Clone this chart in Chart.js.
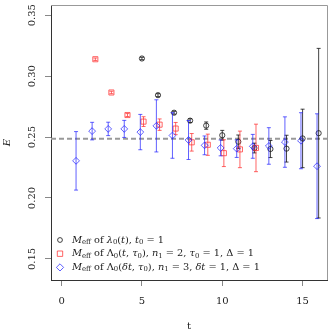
<!DOCTYPE html>
<html>
<head>
<meta charset="utf-8">
<script src="https://cdn.jsdelivr.net/npm/chart.js@4.4.0/dist/chart.umd.min.js"></script>
<style>html,body{margin:0;padding:0;background:#fff}</style>
</head>
<body>
<canvas id="grafico" width="332" height="332"></canvas>
<script>
// dados
const tLambda = [5, 6, 7, 8, 9, 10, 11, 12, 13, 14, 15, 16];
const eLambda = [0.3145, 0.2844, 0.2700, 0.2635, 0.2594, 0.2515, 0.2462, 0.2410, 0.2402, 0.2405, 0.2489, 0.2532];
const errLambda = [0.001, 0.0012, 0.0012, 0.0015, 0.003, 0.004, 0.0055, 0.004, 0.007, 0.011, 0.024, 0.0696];

const tGev = [2, 3, 4, 5, 6, 7, 8, 9, 10, 11, 12];
const eGev = [0.3139, 0.2866, 0.2681, 0.2627, 0.2602, 0.2570, 0.2457, 0.2437, 0.2368, 0.2399, 0.2411];
const errGev = [0.001, 0.001, 0.0012, 0.004, 0.0047, 0.005, 0.0072, 0.0087, 0.011, 0.015, 0.0195];

const tDelta = [1, 2, 3, 4, 5, 6, 7, 8, 9, 10, 11, 12, 13, 14, 15, 16];
const eDelta = [0.2305, 0.2549, 0.2567, 0.2567, 0.2541, 0.2592, 0.2513, 0.2476, 0.2432, 0.2411, 0.2405, 0.2424, 0.2427, 0.2459, 0.2470, 0.2261];
const errDelta = [0.024, 0.0072, 0.0055, 0.007, 0.0145, 0.0214, 0.0187, 0.016, 0.0077, 0.0065, 0.0072, 0.0098, 0.015, 0.0207, 0.023, 0.043];

const plateau = 0.2487;
const xTicks = [0, 5, 10, 15];
const yTicks = [0.15, 0.20, 0.25, 0.30, 0.35];

const legendas = [
  [['M','i'],['eff','s'],[' of ','r'],['λ','i'],['0','s'],['(','r'],['t','i'],['), ','r'],['t','i'],['0','s'],[' = 1','r']],
  [['M','i'],['eff','s'],[' of Λ','r'],['0','s'],['(','r'],['t','i'],[', ','r'],['τ','i'],['0','s'],['), ','r'],['n','i'],['1','s'],[' = 2, ','r'],['τ','i'],['0','s'],[' = 1, Δ = 1','r']],
  [['M','i'],['eff','s'],[' of Λ','r'],['0','s'],['(','r'],['δt','i'],[', ','r'],['τ','i'],['0','s'],['), ','r'],['n','i'],['1','s'],[' = 3, ','r'],['δt','i'],[' = 1, Δ = 1','r']]
];

const SERIF = '"DejaVu Serif", "Liberation Serif", serif';
const cores = ['rgba(20,20,20,0.8)', 'rgba(255,50,50,0.75)', 'rgba(30,30,255,0.7)'];

function pontos(ts, es, dx) {
  return ts.map((t, i) => ({ x: t + dx, y: es[i] }));
}

const erros = [errLambda, errGev, errDelta];

const barrasErro = {
  id: 'barrasErro',
  beforeDatasetDraw(chart, args) {
    const idx = args.index;
    if (idx > 2) return;
    const ctx = chart.ctx;
    const xs = chart.scales.x, ys = chart.scales.y;
    const ds = chart.data.datasets[idx];
    ctx.save();
    ctx.strokeStyle = cores[idx];
    ctx.lineWidth = 1;
    ds.data.forEach((p, i) => {
      const e = erros[idx][i];
      const px = xs.getPixelForValue(p.x);
      const y1 = ys.getPixelForValue(p.y + e);
      const y2 = ys.getPixelForValue(p.y - e);
      ctx.beginPath();
      ctx.moveTo(px, y1); ctx.lineTo(px, y2);
      ctx.moveTo(px - 2, y1); ctx.lineTo(px + 2, y1);
      ctx.moveTo(px - 2, y2); ctx.lineTo(px + 2, y2);
      ctx.stroke();
    });
    ctx.restore();
  }
};

function escreverFormula(ctx, partes, x, y, tam) {
  partes.forEach(([txt, est]) => {
    let fs = tam, dy = 0, estilo = '';
    if (est === 'i') estilo = 'italic ';
    if (est === 's') { fs = tam * 0.7; dy = tam * 0.22; }
    ctx.font = `${estilo}${fs}px ${SERIF}`;
    ctx.fillText(txt, x, y + dy);
    x += ctx.measureText(txt).width;
  });
}

const textos = {
  id: 'textos',
  afterDraw(chart) {
    const ctx = chart.ctx;
    const a = chart.chartArea;
    const xs = chart.scales.x, ys = chart.scales.y;
    ctx.save();
    // borda superior e direita
    ctx.strokeStyle = '#999';
    ctx.lineWidth = 1;
    ctx.beginPath();
    ctx.moveTo(a.left, a.top + 0.5); ctx.lineTo(a.right + 0.5, a.top + 0.5);
    ctx.lineTo(a.right + 0.5, a.bottom);
    ctx.stroke();

    ctx.fillStyle = '#222';
    ctx.textBaseline = 'middle';
    ctx.textAlign = 'center';
    ctx.font = `10px ${SERIF}`;
    xTicks.forEach(v => ctx.fillText(String(v), xs.getPixelForValue(v), 301));
    ctx.fillText('t', (a.left + a.right) / 2, 326);
    yTicks.forEach(v => {
      ctx.save();
      ctx.translate(32, ys.getPixelForValue(v));
      ctx.rotate(-Math.PI / 2);
      ctx.fillText(v.toFixed(2), 0, 0);
      ctx.restore();
    });
    ctx.save();
    ctx.translate(7, (a.top + a.bottom) / 2);
    ctx.rotate(-Math.PI / 2);
    ctx.font = `italic 10px ${SERIF}`;
    ctx.fillText('E', 0, 0);
    ctx.restore();

    // legenda
    const estilos = ['circle', 'rect', 'rectRot'];
    const raios = [2.4, 3.8, 3.6];
    ctx.textAlign = 'left';
    legendas.forEach((partes, i) => {
      const ly = 240 + i * 13.7;
      ctx.strokeStyle = cores[i];
      ctx.fillStyle = 'rgba(0,0,0,0)';
      ctx.lineWidth = 1;
      Chart.helpers.drawPoint(ctx, { pointStyle: estilos[i], radius: raios[i], rotation: 0, borderWidth: 1 }, 60, ly);
      ctx.fillStyle = '#222';
      escreverFormula(ctx, partes, 72, ly, 9.8);
    });
    ctx.restore();
  }
};

const serie = (rotulo, dados, i, estilo, raio, ordem) => ({
  label: rotulo,
  data: dados,
  pointStyle: estilo,
  pointRadius: raio,
  pointBorderWidth: 1,
  pointBorderColor: cores[i],
  pointBackgroundColor: 'rgba(0,0,0,0)',
  showLine: false,
  order: ordem
});

new Chart(document.getElementById('grafico').getContext('2d'), {
  type: 'scatter',
  data: {
    datasets: [
      serie('lambda0', pontos(tLambda, eLambda, 0), 0, 'circle', 2.6, 3),
      serie('Lambda0 n1=2', pontos(tGev, eGev, 0.1), 1, 'rect', 3.6, 2),
      serie('Lambda0 n1=3', pontos(tDelta, eDelta, -0.1), 2, 'rectRot', 3.4, 1),
      {
        type: 'line',
        label: 'plateau',
        data: [{ x: -0.66, y: plateau }, { x: 16.52, y: plateau }],
        borderColor: '#999',
        borderWidth: 2,
        borderDash: [5, 3],
        pointRadius: 0,
        order: 4
      }
    ]
  },
  plugins: [barrasErro, textos],
  options: {
    responsive: false,
    animation: false,
    layout: { padding: { top: 1, right: 3, left: 0, bottom: 0 } },
    plugins: { legend: { display: false }, tooltip: { enabled: false } },
    scales: {
      x: {
        type: 'linear', min: -0.66, max: 16.52,
        afterBuildTicks: s => { s.ticks = xTicks.map(v => ({ value: v })); },
        afterFit: s => { s.height = 52; },
        ticks: { display: false },
        grid: { drawOnChartArea: false, drawTicks: true, tickLength: 6, color: '#888' },
        border: { display: true, color: '#333', width: 1 }
      },
      y: {
        type: 'linear', min: 0.1327, max: 0.3584,
        afterBuildTicks: s => { s.ticks = yTicks.map(v => ({ value: v })); },
        afterFit: s => { s.width = 51; },
        ticks: { display: false },
        grid: { drawOnChartArea: false, drawTicks: true, tickLength: 6, color: '#888' },
        border: { display: true, color: '#333', width: 1 }
      }
    }
  }
});
</script>
</body>
</html>
